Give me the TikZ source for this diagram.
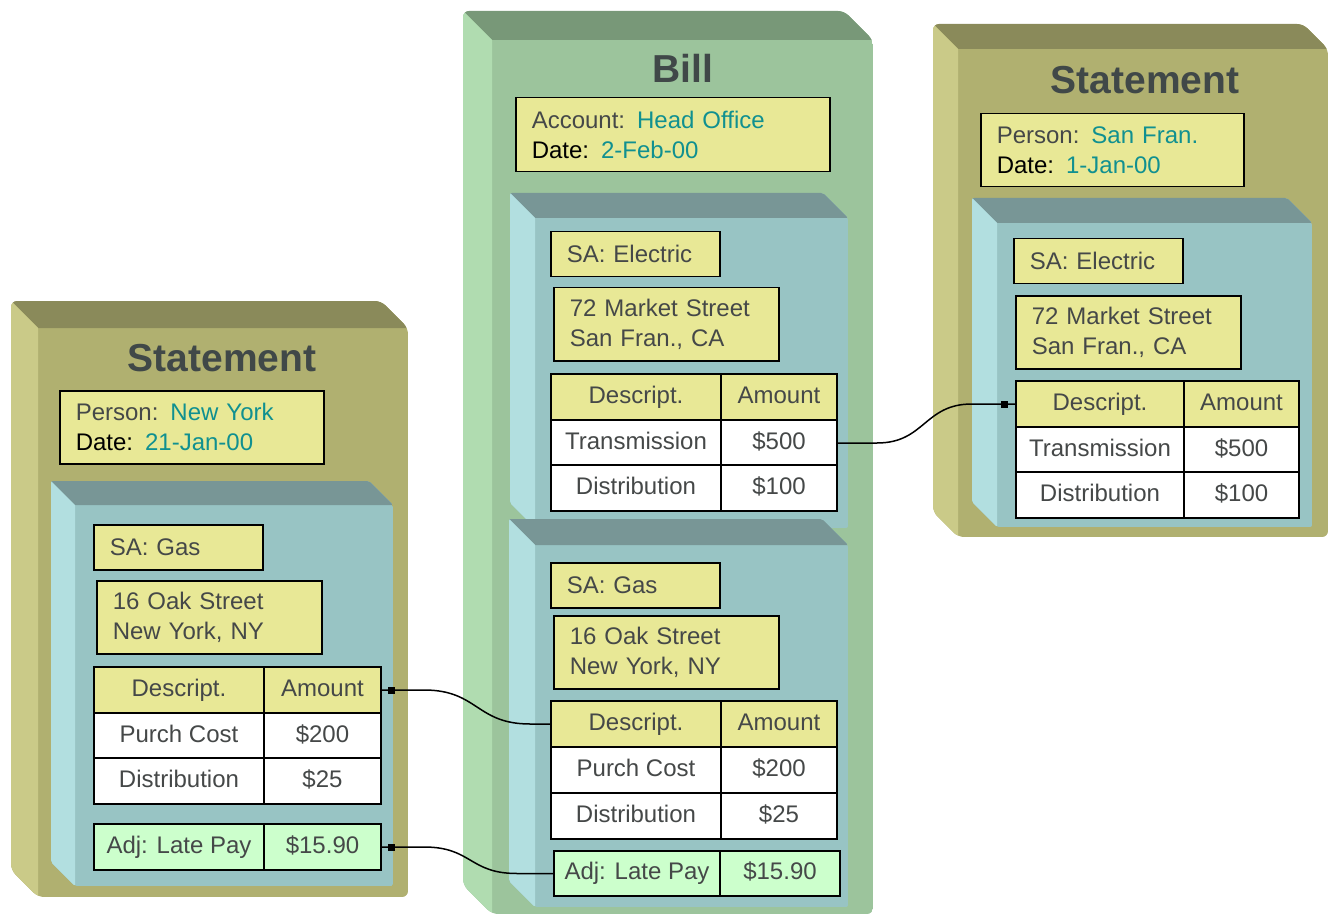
\documentclass[tikz,border=0pt]{standalone}
\usepackage{fontspec}
\setmainfont{Liberation Sans}
\usetikzlibrary{calc}

\definecolor{olivefront}{HTML}{B0B070}
\definecolor{olivetop}{HTML}{8A8A5A}
\definecolor{oliveside}{HTML}{CACA88}
\definecolor{greenfront}{HTML}{9CC49C}
\definecolor{greentop}{HTML}{789878}
\definecolor{greenside}{HTML}{B0DCB0}
\definecolor{tealfront}{HTML}{98C4C4}
\definecolor{tealtop}{HTML}{789696}
\definecolor{tealside}{HTML}{B2DFE0}
\definecolor{boxyellow}{HTML}{E8E896}
\definecolor{adjgreen}{HTML}{CCFFCC}
\definecolor{textgrey}{HTML}{454848}
\definecolor{titlegrey}{HTML}{404848}
\definecolor{valueteal}{HTML}{109090}

\newcommand\bodyfont{\fontsize{24}{30}\selectfont}
\newcommand\val[1]{\textcolor{valueteal}{#1}}

% 3d slab: front face x1,y1,x2,y2, depth, colour set, corner radius
\newcommand\slab[7]{%
  \begin{scope}
    \clip[rounded corners=#7] (#1-#5,#2-#5) -- (#3-#5,#2-#5) -- (#3,#2) -- (#3,#4) -- (#1,#4) -- (#1-#5,#4-#5) -- cycle;
    \fill[#6front] (#1-#5,#2-#5) rectangle (#3,#4);
    \fill[#6top] (#1-#5,#2-#5) -- (#3-#5,#2-#5) -- (#3,#2) -- (#1,#2) -- cycle;
    \fill[#6side] (#1-#5,#2-#5) -- (#1,#2) -- (#1,#4) -- (#1-#5,#4-#5) -- cycle;
  \end{scope}}

\begin{document}
\begin{tikzpicture}[x=1pt, y=-1pt,
  title/.style={font=\fontsize{39}{44}\selectfont\bfseries, text=titlegrey},
  infobox/.style={draw, line width=1.5pt, fill=boxyellow, anchor=north west, inner xsep=16pt, inner ysep=0pt, align=left, font=\bodyfont, text=textgrey},
  sabox/.style={infobox, text width=137pt, minimum height=45pt},
  addrbox/.style={infobox, text width=193pt, minimum height=73pt},
  hcell/.style={draw, line width=2pt, fill=boxyellow, anchor=north west, inner sep=0pt, font=\bodyfont, text=textgrey, minimum height=46pt, text height=17pt, text depth=5pt},
  dcell/.style={hcell, fill=white},
  adjcell/.style={hcell, fill=adjgreen},
  link/.style={line width=1.5pt},
  sq/.style={fill, inner sep=0pt, minimum size=7pt}]
  \useasboundingbox (0,0) rectangle (1330,917);

  % left statement
  \slab{38}{328}{408}{897}{27}{olive}{6pt}
  \slab{75}{505}{393}{886}{24}{teal}{2pt}
  \node[title] (lstitle) at (222,358) {Statement};
  \node[infobox, text width=232pt, minimum height=73pt] (lsinfo) at (59,390) {Person: \val{New York}\\\textcolor{black}{Date:} \val{21-Jan-00}};
  \node[sabox] (lsgas) at (93,524) {SA: Gas};
  \node[addrbox] (lsaddr) at (96,580) {16 Oak Street\\New York, NY};
  \node[hcell, minimum width=170pt] (lsdesc) at (93,666) {Descript.};
  \node[hcell, minimum width=117pt] (lsamount) at (263,666) {Amount};
  \node[dcell, minimum width=170pt] (lscost) at (93,712) {Purch Cost};
  \node[dcell, minimum width=117pt] (lscostamt) at (263,712) {\$200};
  \node[dcell, minimum width=170pt] (lsdist) at (93,757) {Distribution};
  \node[dcell, minimum width=117pt] (lsdistamt) at (263,757) {\$25};
  \node[adjcell, minimum width=170pt] (lsadj) at (93,823) {Adj: Late Pay};
  \node[adjcell, minimum width=117pt] (lsadjamt) at (263,823) {\$15.90};

  % bill
  \slab{492}{40}{873}{914}{29}{green}{6pt}
  \slab{535}{218}{848}{528}{25}{teal}{2pt}
  \slab{535}{545}{848}{907}{26}{teal}{2pt}
  \node[title] (btitle) at (683,68) {Bill};
  \node[infobox, text width=282pt, minimum height=74pt] (binfo) at (515,97) {Account: \val{Head Office}\\\textcolor{black}{Date:} \val{2-Feb-00}};
  % bill - electric
  \node[sabox] (belec) at (550,231) {SA: Electric};
  \node[addrbox] (beaddr) at (553,287) {72 Market Street\\San Fran., CA};
  \node[hcell, minimum width=170pt] (bedesc) at (550,373) {Descript.};
  \node[hcell, minimum width=116pt] (beamount) at (720,373) {Amount};
  \node[dcell, minimum width=170pt] (betrans) at (550,419) {Transmission};
  \node[dcell, minimum width=116pt] (betransamt) at (720,419) {\$500};
  \node[dcell, minimum width=170pt] (bedist) at (550,464) {Distribution};
  \node[dcell, minimum width=116pt] (bedistamt) at (720,464) {\$100};
  % bill - gas
  \node[sabox] (bgas) at (550,562) {SA: Gas};
  \node[addrbox] (bgaddr) at (553,615) {16 Oak Street\\New York, NY};
  \node[hcell, minimum width=170pt] (bgdesc) at (550,700) {Descript.};
  \node[hcell, minimum width=116pt] (bgamount) at (720,700) {Amount};
  \node[dcell, minimum width=170pt] (bgcost) at (550,746) {Purch Cost};
  \node[dcell, minimum width=116pt] (bgcostamt) at (720,746) {\$200};
  \node[dcell, minimum width=170pt] (bgdist) at (550,792) {Distribution};
  \node[dcell, minimum width=116pt] (bgdistamt) at (720,792) {\$25};
  \node[adjcell, minimum width=166pt, minimum height=45pt] (bgadj) at (553,850) {Adj: Late Pay};
  \node[adjcell, minimum width=120pt, minimum height=45pt] (bgadjamt) at (719,850) {\$15.90};

  % right statement
  \slab{958}{49}{1328}{537}{25}{olive}{6pt}
  \slab{997}{223}{1312}{527}{25}{teal}{2pt}
  \node[title] (rstitle) at (1145,80) {Statement};
  \node[infobox, text width=231pt, minimum height=73pt] (rsinfo) at (980,113) {Person: \val{San Fran.}\\\textcolor{black}{Date:} \val{1-Jan-00}};
  \node[sabox] (rselec) at (1013,238) {SA: Electric};
  \node[addrbox] (rsaddr) at (1015,295) {72 Market Street\\San Fran., CA};
  \node[hcell, minimum width=168pt] (rsdesc) at (1015,380) {Descript.};
  \node[hcell, minimum width=115pt] (rsamount) at (1183,380) {Amount};
  \node[dcell, minimum width=168pt] (rstrans) at (1015,426) {Transmission};
  \node[dcell, minimum width=115pt] (rstransamt) at (1183,426) {\$500};
  \node[dcell, minimum width=168pt] (rsdist) at (1015,471) {Distribution};
  \node[dcell, minimum width=115pt] (rsdistamt) at (1183,471) {\$100};

  % links
  \draw[link] (betransamt.east) -- ++(39,0) .. controls +(48,0) and +(-48,0) .. ($(rsdesc.west)+(-43,0)$) -- (rsdesc.west) node[pos=0.76, sq] {};
  \draw[link] (bgdesc.west) -- ++(-20,0) .. controls +(-54,0) and +(54,0) .. ($(lsamount.east)+(42,0)$) -- (lsamount.east) node[pos=0.78, sq] {};
  \draw[link] (bgadj.west) -- ++(-36,0) .. controls +(-48,0) and +(48,0) .. ($(lsadjamt.east)+(42,0)$) -- (lsadjamt.east) node[pos=0.78, sq] {};
\end{tikzpicture}
\end{document}
